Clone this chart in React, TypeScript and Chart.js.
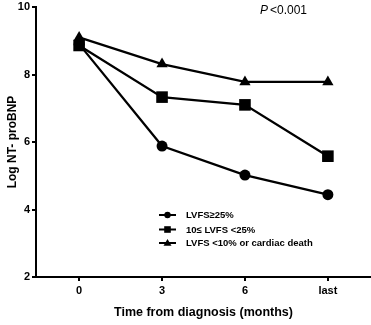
import React, { useEffect, useRef } from "react";
import { Chart, registerables } from "chart.js";
Chart.register(...registerables);

const timeLabels = ["0", "3", "6", "last"];
const seriesNames = ["LVFS\u226525%", "10\u2264 LVFS <25%", "LVFS <10% or cardiac death"];
const lvfsHigh = [8.9, 5.88, 5.02, 4.44];
const lvfsMid = [8.86, 7.33, 7.1, 5.58];
const lvfsLow = [9.1, 8.31, 7.78, 7.78];
const yTicks = [2, 4, 6, 8, 10];
const pointStyles = ["circle", "rect", "triangle"];
const pointRadii = [5.5, 8.2, 6.5];

const FONT = "'Liberation Sans', Arial, sans-serif";

const legendPlugin = {
  id: "inLegend",
  afterDatasetsDraw(chart: any) {
    const ctx = chart.ctx;
    const rows = [215, 229.5, 243];
    ctx.save();
    chart.data.datasets.forEach((ds: any, i: number) => {
      const y = rows[i];
      ctx.strokeStyle = "#000";
      ctx.lineWidth = 2;
      ctx.beginPath();
      ctx.moveTo(159, y);
      ctx.lineTo(176, y);
      ctx.stroke();
      ctx.fillStyle = "#000";
      const r = [3.2, 3.3, 4][i];
      if (i === 0) {
        ctx.beginPath();
        ctx.arc(167.5, y, r, 0, Math.PI * 2);
        ctx.fill();
      } else if (i === 1) {
        ctx.fillRect(167.5 - r, y - r, 2 * r, 2 * r);
      } else {
        ctx.beginPath();
        ctx.moveTo(167.5, y - r);
        ctx.lineTo(167.5 + r, y + r * 0.7);
        ctx.lineTo(167.5 - r, y + r * 0.7);
        ctx.closePath();
        ctx.fill();
      }
      ctx.font = `bold 9.5px ${FONT}`;
      ctx.textBaseline = "middle";
      ctx.textAlign = "left";
      ctx.fillText(ds.label, 186, y + 0.5);
    });
    ctx.font = `italic 12px ${FONT}`;
    ctx.textBaseline = "middle";
    ctx.fillText("P", 260, 11);
    ctx.font = `12px ${FONT}`;
    ctx.fillText("<0.001", 270, 11);
    ctx.restore();
  },
};

export default function App() {
  const ref = useRef<HTMLCanvasElement>(null);
  useEffect(() => {
    const series = [lvfsHigh, lvfsMid, lvfsLow];
    const chart = new Chart(ref.current!, {
      type: "line",
      data: {
        datasets: series.map((vals, i) => ({
          label: seriesNames[i],
          data: vals.map((v, j) => ({ x: j, y: v })),
          borderColor: "#000",
          backgroundColor: "#000",
          borderWidth: 2.3,
          pointStyle: pointStyles[i] as any,
          pointRadius: pointRadii[i],
          pointBackgroundColor: "#000",
          pointBorderColor: "#000",
          pointBorderWidth: 0,
          tension: 0,
          clip: false,
        })),
      },
      options: {
        animation: false,
        responsive: false,
        maintainAspectRatio: false,
        layout: { autoPadding: false, padding: { top: 7, right: 0, left: 5, bottom: 5 } },
        plugins: { legend: { display: false }, tooltip: { enabled: false } },
        scales: {
          x: {
            type: "linear",
            min: -0.52,
            max: 3.52,
            afterBuildTicks: (s: any) => {
              s.ticks = timeLabels.map((_, i) => ({ value: i }));
            },
            afterFit: (s: any) => {
              s.height = 43;
              s.paddingLeft = 0;
              s.paddingRight = 0;
            },
            border: { color: "#000", width: 2 },
            grid: { drawOnChartArea: false, tickLength: 4, color: "#000", lineWidth: 2 },
            ticks: {
              color: "#000",
              font: { family: FONT, size: 11, weight: "bold" },
              padding: 3,
              callback: (v: any) => timeLabels[v as number] ?? "",
              maxRotation: 0,
              autoSkip: false,
            },
            title: {
              display: true,
              text: "Time from diagnosis (months)",
              color: "#000",
              font: { family: FONT, size: 12.5, weight: "bold" },
              padding: { top: 6, bottom: 0 },
            },
          },
          y: {
            min: 2,
            max: 10,
            afterBuildTicks: (s: any) => {
              s.ticks = yTicks.map((v) => ({ value: v }));
            },
            afterFit: (s: any) => {
              s.width = 31;
              s.paddingTop = 0;
              s.paddingBottom = 0;
            },
            border: { color: "#000", width: 2 },
            grid: { drawOnChartArea: false, tickLength: 4, color: "#000", lineWidth: 2 },
            ticks: {
              color: "#000",
              font: { family: FONT, size: 11, weight: "bold" },
              padding: 2,
            },
            title: {
              display: true,
              text: "Log NT- proBNP",
              color: "#000",
              font: { family: FONT, size: 12, weight: "bold" },
              padding: { top: 0, bottom: 0 },
            },
          },
        },
      } as any,
      plugins: [legendPlugin],
    });
    return () => chart.destroy();
  }, []);
  return (
    <div style={{ position: "fixed", left: 0, top: 0, width: 371, height: 325, background: "#fff" }}>
      <canvas ref={ref} width={371} height={325} />
    </div>
  );
}
